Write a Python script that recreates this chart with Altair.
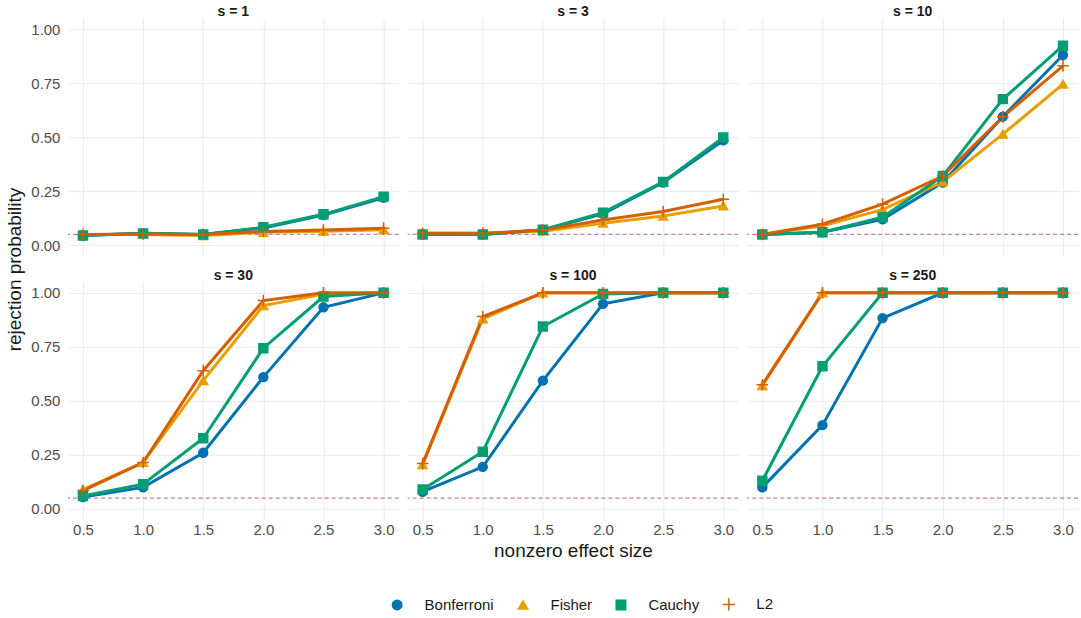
import altair as alt
import pandas as pd

effect = [0.5, 1.0, 1.5, 2.0, 2.5, 3.0]
sparsity = [1, 3, 10, 30, 100, 250]
methods = ["Bonferroni", "Fisher", "Cauchy", "L2"]
colors = ["#0072B2", "#E69F00", "#009E73", "#D55E00"]
alpha_level = [0.05]

bonferroni = {
    1: [0.045, 0.055, 0.05, 0.08, 0.14, 0.22],
    3: [0.05, 0.05, 0.07, 0.145, 0.29, 0.485],
    10: [0.05, 0.06, 0.12, 0.29, 0.595, 0.88],
    30: [0.055, 0.10, 0.26, 0.61, 0.933, 1.0],
    100: [0.08, 0.195, 0.594, 0.949, 1.0, 1.0],
    250: [0.10, 0.388, 0.883, 1.0, 1.0, 1.0],
}
fisher = {
    1: [0.05, 0.05, 0.045, 0.06, 0.065, 0.072],
    3: [0.055, 0.055, 0.065, 0.102, 0.135, 0.182],
    10: [0.05, 0.09, 0.165, 0.293, 0.514, 0.745],
    30: [0.09, 0.216, 0.594, 0.941, 0.995, 1.0],
    100: [0.205, 0.88, 1.0, 1.0, 1.0, 1.0],
    250: [0.571, 1.0, 1.0, 1.0, 1.0, 1.0],
}
cauchy = {
    1: [0.045, 0.055, 0.05, 0.083, 0.143, 0.225],
    3: [0.05, 0.05, 0.072, 0.151, 0.293, 0.499],
    10: [0.05, 0.06, 0.13, 0.32, 0.676, 0.923],
    30: [0.06, 0.115, 0.327, 0.744, 0.983, 1.0],
    100: [0.09, 0.265, 0.844, 0.995, 1.0, 1.0],
    250: [0.131, 0.66, 1.0, 1.0, 1.0, 1.0],
}
l2 = {
    1: [0.05, 0.052, 0.05, 0.064, 0.07, 0.079],
    3: [0.055, 0.055, 0.07, 0.117, 0.156, 0.213],
    10: [0.05, 0.097, 0.19, 0.32, 0.594, 0.83],
    30: [0.085, 0.215, 0.64, 0.964, 1.0, 1.0],
    100: [0.21, 0.89, 1.0, 1.0, 1.0, 1.0],
    250: [0.575, 1.0, 1.0, 1.0, 1.0, 1.0],
}

series = {"Bonferroni": bonferroni, "Fisher": fisher, "Cauchy": cauchy, "L2": l2}
rows = []
for m in methods:
    for s in sparsity:
        for e, v in zip(effect, series[m][s]):
            rows.append({"s": s, "method": m, "effect": e, "prob": v})
df = pd.DataFrame(rows)
alpha_df = pd.DataFrame({"prob": alpha_level})

FONT = "Liberation Sans"
PW, PH = 331, 238
VGAP = 26

color_scale = alt.Scale(domain=methods, range=colors)
fill_scale = alt.Scale(domain=methods, range=colors[:3] + ["transparent"])
shape_scale = alt.Scale(
    domain=methods,
    range=["circle", "triangle-up", "square", "M-1.3,0L1.3,0M0,-1.3L0,1.3"],
)
legend = alt.Legend(
    title=None,
    orient="none",
    legendX=322,
    legendY=579,
    direction="horizontal",
    labelFontSize=15,
    labelFont=FONT,
    labelColor="#1A1A1A",
    symbolSize=90,
    symbolStrokeWidth=1.5,
    labelOffset=20,
    columnPadding=20,
)


def panel(s, show_x, show_y, x_title=None, y_title=None, y_title_y=None):
    d = df[df.s == s]
    xaxis_kw = dict(values=effect, format=".1f", labels=show_x, labelPadding=3)
    if x_title:
        xaxis_kw["title"] = x_title
        xaxis_kw["titlePadding"] = 4
    else:
        xaxis_kw["title"] = None
    yaxis_kw = dict(values=[0, 0.25, 0.5, 0.75, 1.0], format=".2f", labels=show_y, labelPadding=8)
    if y_title:
        yaxis_kw["title"] = y_title
        yaxis_kw["titlePadding"] = 6
        if y_title_y is not None:
            yaxis_kw["titleY"] = y_title_y
    else:
        yaxis_kw["title"] = None
    xs = alt.Scale(domain=[0.375, 3.125], nice=False, zero=False)
    ys = alt.Scale(domain=[-0.05, 1.05], nice=False, zero=False)
    x = alt.X("effect:Q", scale=xs, axis=alt.Axis(**xaxis_kw))
    y = alt.Y("prob:Q", scale=ys, axis=alt.Axis(**yaxis_kw))
    base = alt.Chart(d)
    rule = alt.Chart(alpha_df).mark_rule(
        color="#CC79A7", strokeDash=[4, 3], strokeWidth=1.2
    ).encode(y=y)
    line = base.mark_line(strokeWidth=3).encode(
        x=x, y=y,
        color=alt.Color("method:N", scale=color_scale, legend=legend),
    )
    pts = base.mark_point(filled=False, opacity=1, size=80, strokeWidth=1.5).encode(
        x=x, y=y,
        color=alt.Color("method:N", scale=color_scale, legend=legend),
        fill=alt.Fill("method:N", scale=fill_scale, legend=legend),
        shape=alt.Shape("method:N", scale=shape_scale, legend=legend),
    )
    return alt.layer(rule, line, pts).properties(
        width=PW, height=PH,
        title=alt.TitleParams(f"s = {s}", fontSize=14, fontWeight="bold", color="#1A1A1A",
                              font=FONT, offset=-1, anchor="middle", frame="group"),
    )


panels = [
    panel(1, False, True, y_title="rejection probability", y_title_y=PH + VGAP / 2),
    panel(3, False, False),
    panel(10, False, False),
    panel(30, True, True),
    panel(100, True, False, x_title="nonzero effect size"),
    panel(250, True, False),
]

chart = alt.concat(
    *panels, columns=3, spacing={"row": VGAP, "column": 9}, bounds="flush"
).configure(
    font=FONT, background="white", padding={"left": 5, "top": 5, "right": 2, "bottom": 5}
).configure_view(stroke=None).configure_axis(
    labelFont=FONT, labelFontSize=15, labelColor="#4D4D4D",
    titleFont=FONT, titleFontSize=19, titleFontWeight="normal", titleColor="#1A1A1A",
    domain=False, ticks=False, tickSize=0,
    gridColor="#EBEBEB", gridWidth=1,
).resolve_scale(color="shared", fill="shared", shape="shared")

chart.save("out.html", embed_options={"renderer": "svg", "actions": False})
